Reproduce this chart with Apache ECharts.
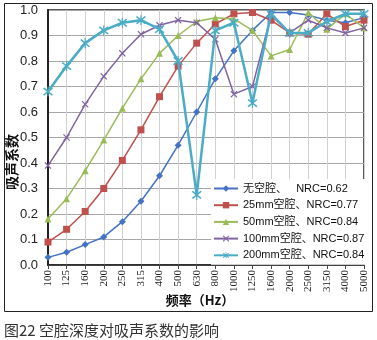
<!DOCTYPE html>
<html>
<head>
<meta charset="utf-8">
<script src="https://cdn.jsdelivr.net/npm/echarts@6/dist/echarts.min.js"></script>
<style>html,body{margin:0;padding:0;background:#fff;}#c{width:377px;height:340px;}</style>
</head>
<body>
<div id="c"></div>
<script>
var categories = ['100','125','160','200','250','315','400','500','630','800','1000','1250','1600','2000','2500','3150','4000','5000'];
var yTicks = ['0.0','0.1','0.2','0.3','0.4','0.5','0.6','0.7','0.8','0.9','1.0'];
var seriesNames = ['无空腔、   NRC=0.62','25mm空腔、NRC=0.77','50mm空腔、NRC=0.84','100mm空腔、NRC=0.87','200mm空腔、NRC=0.84'];
var noCavity = [0.03,0.05,0.08,0.11,0.17,0.25,0.35,0.47,0.60,0.73,0.84,0.92,0.99,0.99,0.98,0.96,0.95,0.97];
var cavity25 = [0.09,0.14,0.21,0.30,0.41,0.53,0.66,0.78,0.87,0.945,0.985,0.99,0.96,0.91,0.905,0.985,0.935,0.96];
var cavity50 = [0.18,0.26,0.37,0.49,0.615,0.73,0.83,0.90,0.955,0.97,0.965,0.92,0.82,0.845,0.99,0.925,0.985,0.93];
var cavity100 = [0.39,0.50,0.63,0.74,0.83,0.905,0.94,0.96,0.95,0.885,0.67,0.70,0.98,0.91,0.96,0.93,0.91,0.93];
var cavity200 = [0.68,0.78,0.87,0.92,0.95,0.96,0.925,0.80,0.275,0.92,0.95,0.635,0.985,0.91,0.91,0.955,0.985,0.985];
</script>
<script>
var xPath = 'path://M0,1.2L1.2,0L5,3.8L8.8,0L10,1.2L6.2,5L10,8.8L8.8,10L5,6.2L1.2,10L0,8.8L3.8,5Z';
var starPath = 'path://M0,1.2L1.2,0L5,3.8L8.8,0L10,1.2L6.2,5L10,8.8L8.8,10L5,6.2L1.2,10L0,8.8L3.8,5ZM4.4,-1L5.6,-1L5.6,11L4.4,11Z';
var colors = ['#4472C4','#C0504D','#9BBB59','#8064A2','#4BACC6'];
var datas = [noCavity, cavity25, cavity50, cavity100, cavity200];
var symbols = ['diamond','rect','triangle',xPath,starPath];
var sizes = [7,7,7,7,10];
var widths = [1.5,1.5,1.5,1.5,2.5];
var series = datas.map(function(d,i){
  return {
    type:'line', name:seriesNames[i], data:d,
    symbol:symbols[i], symbolSize:sizes[i], showAllSymbol:true,
    lineStyle:{color:colors[i], width:widths[i]},
    itemStyle:{color:colors[i]},
    z: 2+i
  };
});
var chart = echarts.init(document.getElementById('c'), null, {renderer:'canvas'});
chart.setOption({
  animation:false,
  backgroundColor:'#fff',
  color:colors,
  grid:{left:48, top:10, right:13, bottom:75, show:true, borderColor:'#222', borderWidth:1.5, backgroundColor:'transparent'},
  xAxis:{
    type:'category', data:categories, boundaryGap:false,
    axisLine:{lineStyle:{color:'#222', width:1.5}},
    axisTick:{show:true, length:4, lineStyle:{color:'#444'}},
    axisLabel:{rotate:90, fontSize:11, fontFamily:'Liberation Serif', color:'#222', margin:5, interval:0},
    splitLine:{show:true, lineStyle:{color:'#d0d0d0', width:1}}
  },
  yAxis:{
    type:'value', min:0, max:1, interval:0.1,
    axisLine:{show:true, lineStyle:{color:'#222', width:2}},
    axisTick:{show:false},
    axisLabel:{fontSize:13, fontFamily:'Liberation Sans', color:'#222', margin:10,
      formatter:function(v){ return yTicks[Math.round(v*10)]; }},
    splitLine:{show:true, lineStyle:{color:'#a6a6a6', width:1}}
  },
  legend:{
    orient:'vertical', left:211, top:179, padding:[3,4,3,2], itemGap:3.7,
    itemWidth:24, itemHeight:8,
    backgroundColor:'#fff',
    textStyle:{fontSize:11, lineHeight:13, fontFamily:'Liberation Sans, Noto Sans CJK SC', color:'#111'},
    data:seriesNames
  },
  graphic:[
    {type:'rect', shape:{x:4.5,y:3.5,width:368,height:308}, style:{fill:null, stroke:'#222', lineWidth:1}, silent:true},
    {type:'text', x:12, y:162, rotation:Math.PI/2, style:{text:'吸声系数', font:'bold 14px "Noto Sans CJK SC"', fill:'#111', textAlign:'center', textVerticalAlign:'middle'}},
    {type:'text', x:200, y:300, style:{text:'频率（Hz）', font:'bold 13px "Noto Sans CJK SC"', fill:'#111', textAlign:'center', textVerticalAlign:'middle'}},
    {type:'text', x:4, y:330, style:{text:'图22 空腔深度对吸声系数的影响', font:'15px "Noto Sans CJK SC"', fill:'#333', textAlign:'left', textVerticalAlign:'middle'}}
  ],
  series:series
});
</script>
</body>
</html>
